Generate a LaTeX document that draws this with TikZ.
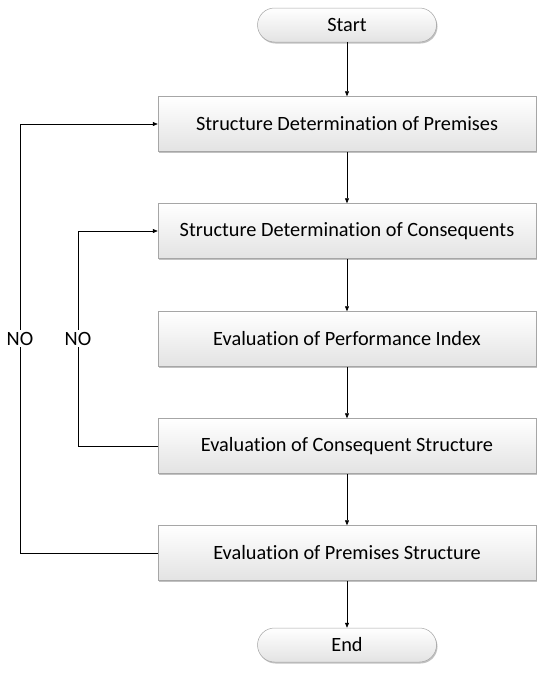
\documentclass[tikz,border=0pt]{standalone}
\usepackage{fontspec}
\setmainfont{Carlito}[Ligatures=NoCommon]
\usetikzlibrary{arrows.meta,positioning,shadows}

\begin{document}
\begin{tikzpicture}[x=1pt, y=-1pt,
  every node/.style={font=\fontsize{20.3}{23}\selectfont},
  stepbox/.style={draw=gray!70, line width=0.5pt, top color=white, bottom color=gray!22,
    minimum width=378pt, minimum height=55pt, inner sep=0pt,
    drop shadow={shadow xshift=1pt, shadow yshift=-1.5pt, fill=gray!60, opacity=0.8}},
  termbox/.style={stepbox, rounded corners=17pt, minimum width=179pt, minimum height=34pt},
  flow/.style={-{Triangle[length=5pt,width=4pt]}, line width=0.6pt},
  loop/.style={line width=0.6pt}]
  \useasboundingbox (0,0) rectangle (537,673);
  \node[termbox] (start) at (347,25) {Start};
  \node[stepbox] (sdp) at (347,124) {Structure Determination of Premises};
  \node[stepbox] (sdc) at (347,231) {Structure Determination of Consequents};
  \node[stepbox] (epi) at (347,339) {Evaluation of Performance Index};
  \node[stepbox] (ecs) at (347,446) {Evaluation of Consequent Structure};
  \node[stepbox] (eps) at (347,553) {Evaluation of Premises Structure};
  \node[termbox] (end) at (347,645) {End};
  \coordinate (outer) at (20,0);
  \coordinate (inner) at (78,0);
  \draw[flow] (start) -- (sdp);
  \draw[flow] (sdp) -- (sdc);
  \draw[flow] (sdc) -- (epi);
  \draw[flow] (epi) -- (ecs);
  \draw[flow] (ecs) -- (eps);
  \draw[flow] (eps) -- (end);
  % feedback loops
  \draw[flow] (eps.west) -- (eps.west -| outer) |- node[pos=0.25, fill=white, inner sep=2pt] (no1) {NO} (sdp.west);
  \draw[flow] (ecs.west) -- (ecs.west -| inner) |- node[pos=0.25, fill=white, inner sep=2pt] (no2) {NO} (sdc.west);
\end{tikzpicture}
\end{document}
